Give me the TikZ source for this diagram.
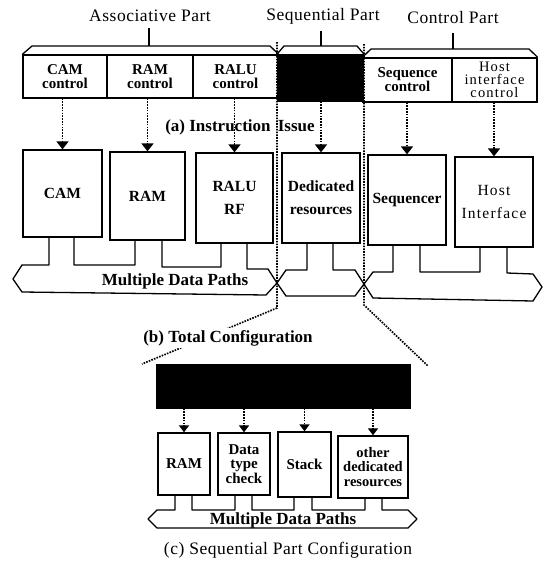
\documentclass[tikz,border=0pt]{standalone}
\usepackage{fontspec}
\setmainfont{Liberation Serif}
\newfontfamily\spaced[LetterSpace=8]{Liberation Serif}
\newfontfamily\spacedb[LetterSpace=3]{Liberation Serif}
\usetikzlibrary{arrows.meta}
\begin{document}
\begin{tikzpicture}[x=1pt,y=-1pt,
  ln/.style={line width=1.3pt, line join=round},
  ctrlbox/.style={draw, line width=1.3pt, inner sep=0pt, align=center, font=\fontsize{15}{14}\selectfont\bfseries},
  hostctrl/.style={draw, line width=1.3pt, inner sep=0pt, align=center, font=\fontsize{14.5}{13}\selectfont\spaced},
  unitbox/.style={draw, line width=1.3pt, inner sep=0pt, align=center, font=\fontsize{15.5}{23}\selectfont\bfseries},
  hostunit/.style={draw, line width=1.3pt, inner sep=0pt, align=center, font=\fontsize{15.5}{23}\selectfont\spaced},
  subbox/.style={draw, line width=1.3pt, inner sep=0pt, align=center, font=\fontsize{15}{14.5}\selectfont\bfseries},
  blackbox/.style={draw, fill=black, line width=1.3pt, inner sep=0pt},
  partlabel/.style={font=\fontsize{17.5}{20}\selectfont\spacedb, inner sep=1pt},
  caption/.style={font=\fontsize{17}{20}\selectfont\bfseries, inner sep=1pt},
  buslabel/.style={font=\fontsize{17}{20}\selectfont\bfseries, inner sep=0pt},
  dots/.style={line width=1.7pt, dash pattern=on 1.6pt off 1.2pt},
  issue/.style={dots, -{Triangle[width=12pt,length=8pt]}},
  issuesm/.style={dots, -{Triangle[width=10pt,length=7pt]}},
]
\useasboundingbox (0,0) rectangle (545,570);

% ---------- (a) control row ----------
\node[ctrlbox, minimum width=84, minimum height=43] (cc) at (65,76.5) {CAM\\control};
\node[ctrlbox, minimum width=86, minimum height=43] (rc) at (150,76.5) {RAM\\control};
\node[ctrlbox, minimum width=85, minimum height=43] (ralc) at (235.5,76.5) {RALU\\control};
\node[blackbox, minimum width=86, minimum height=46] (blk) at (320.5,78) {};
\node[ctrlbox, minimum width=89, minimum height=44] (sc) at (407.5,80) {Sequence\\control};
\node[hostctrl, minimum width=85, minimum height=44] (hc) at (494.5,80) {Host\\interface\\control};

% braces and part labels
\draw[ln] (cc.north west) -- (32,46) -- (270,46) -- (ralc.north east);
\draw[ln] (149,46) -- (149,28);
\draw[ln] (blk.north west) -- (284,46) -- (357,46) -- (blk.north east);
\draw[ln] (321,46) -- (321,31);
\draw[ln] (sc.north west) -- (371,49) -- (529,49) -- (hc.north east);
\draw[ln] (453,49) -- (453,33);
\node[partlabel] (lassoc) at (150,16) {Associative Part};
\node[partlabel] (lseq) at (323,16) {Sequential Part};
\node[partlabel] (lctrl) at (453,18) {Control Part};

\node[caption] (capa) at (240,127) {(a) Instruction\hspace{3pt} Issue};

% ---------- (b) units ----------
\node[unitbox, minimum width=79, minimum height=87] (cam) at (62.5,193.5) {CAM};
\node[unitbox, minimum width=75, minimum height=88] (ram) at (147.5,196) {RAM};
\node[unitbox, minimum width=77, minimum height=90] (ralu) at (234.5,198) {RALU\\RF};
\node[unitbox, minimum width=78, minimum height=90] (ded) at (321,198) {Dedicated\\resources};
\node[unitbox, minimum width=78, minimum height=90] (seq) at (407,200) {Sequencer};
\node[hostunit, minimum width=78, minimum height=90] (host) at (494,202) {Host\\Interface};

\draw[issue] (cam.north |- cc.south) -- (cam.north);
\draw[issue] (ram.north |- rc.south) -- (ram.north);
\draw[issue] (ralu.north |- ralc.south) -- (ralu.north);
\draw[issue] (ded.north |- blk.south) -- (ded.north);
\draw[issue] (seq.north |- sc.south) -- (seq.north);
\draw[issue] (host.north |- hc.south) -- (host.north);

% bus (b)
\draw[ln] (13,279) -- (22,265) -- (49,265) -- (49,237)
          -- (74,237) -- (74,265) -- (135,265) -- (135,240)
          -- (162,240) -- (162,267) -- (221,267) -- (221,243)
          -- (247,243) -- (247,269) -- (268,269) -- (277,283) -- (286,270) -- (307,270) -- (307,243)
          -- (333,243) -- (333,270) -- (355,270) -- (364,284) -- (373,272) -- (393,272) -- (393,245)
          -- (420,245) -- (420,272) -- (480,272) -- (480,247)
          -- (507,247) -- (507,273) -- (533,274) -- (542,287) -- (533,301) -- (373,298) -- (364,284)
          -- (355,296) -- (286,296) -- (277,283) -- (266,295) -- (22,292) -- cycle;
\node[buslabel] (bus1) at (175,281) {Multiple Data Paths};

% separators
\coordinate (s1top) at (277,42);
\coordinate (s1bend) at (277,308);
\coordinate (s1end) at (142,364);
\coordinate (s2top) at (364,44);
\coordinate (s2bend) at (364,305);
\coordinate (s2end) at (428,366);
\draw[dots] (s1top) -- (s1bend) -- (s1end);
\draw[dots] (s2top) -- (s2bend) -- (s2end);

\node[caption, fill=white, inner sep=2pt] (capb) at (228,338) {(b) Total Configuration};

% ---------- (c) sequential part ----------
\node[blackbox, minimum width=253, minimum height=43] (bc) at (283.5,386.5) {};
\node[subbox, minimum width=52, minimum height=62] (r2) at (184,464) {RAM};
\node[subbox, minimum width=52, minimum height=62] (dtc) at (244,464) {Data\\type\\check};
\node[subbox, minimum width=53, minimum height=65] (stk) at (304.5,464.5) {Stack};
\node[subbox, font=\fontsize{14.5}{14.5}\selectfont\bfseries, minimum width=70, minimum height=62] (oth) at (373,467) {other\\dedicated\\resources};

\draw[issuesm] (r2.north |- bc.south) -- (r2.north);
\draw[issuesm] (dtc.north |- bc.south) -- (dtc.north);
\draw[issuesm] (stk.north |- bc.south) -- (stk.north);
\draw[issuesm] (oth.north |- bc.south) -- (oth.north);

\draw[ln] (148,519) -- (157,510) -- (175,510) -- (175,495)
          -- (192,495) -- (192,510) -- (235,510) -- (235,495)
          -- (252,495) -- (252,510) -- (294,510) -- (294,497)
          -- (312,497) -- (312,510) -- (365,510) -- (365,498)
          -- (382,498) -- (382,510) -- (408,510) -- (417,519) -- (408,528) -- (157,528) -- cycle;
\node[buslabel] (bus2) at (283,520) {Multiple Data Paths};

\node[partlabel] (capc) at (288,550) {(c) Sequential Part Configuration};
\end{tikzpicture}
\end{document}
